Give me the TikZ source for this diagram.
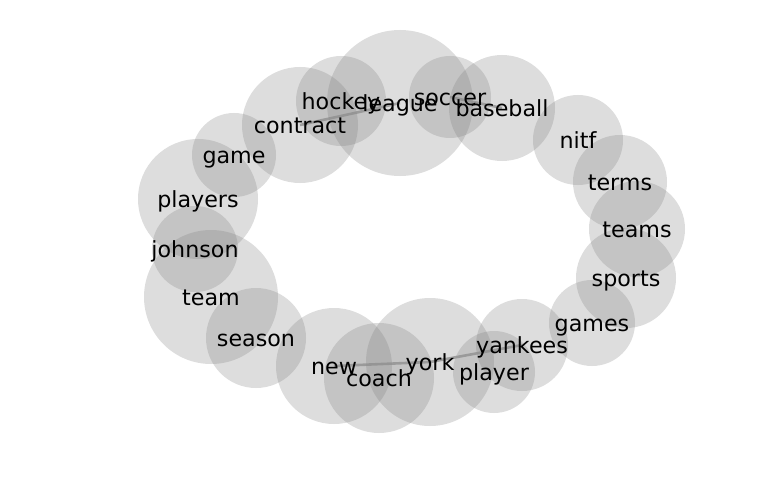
\documentclass[tikz,border=0pt]{standalone}
\usepackage{fontspec}
\setmainfont{DejaVu Sans}
\begin{document}
\begin{tikzpicture}[x=1pt,y=-1pt,
  bubble/.style={circle,fill=black!50,fill opacity=0.27,draw=none,inner sep=0pt,minimum size=#1},
  link/.style={draw=black!45,line width=2.6pt,opacity=0.75},
  word/.style={font=\fontsize{22.2}{26}\selectfont,text=black,inner sep=0pt,text height=0.76em,text depth=0pt,yshift=-4.5pt}]
\useasboundingbox (0,0) rectangle (768,500);
\foreach \n/\x/\y/\r in {
  league/400/103/73, hockey/341/101/45, contract/300/125/58,
  soccer/450/97/41, baseball/502/108/53, nitf/578/140/45,
  terms/620/182/47, teams/637/229/48, sports/626/278/50,
  games/592/323/43, yankees/522/345/46, player/494/372/41,
  york/430/362/64, coach/379/378/55, new/334/366/58,
  season/256/338/50, team/211/297/67, johnson/195/249/43,
  players/198/199/60, game/234/155/42}
  {\node[bubble=2*\r pt] (\n) at (\x,\y) {};}
\draw[link] (contract.center) -- (league.center);
\draw[link] (soccer.center) -- (baseball.center);
\draw[link] (new.center) -- (york.center);
\draw[link] (york.center) -- (yankees.center);
\foreach \n in {league,hockey,contract,soccer,baseball,nitf,terms,teams,sports,games,
  yankees,player,york,coach,new,season,team,johnson,players,game}
  {\node[word] (t-\n) at (\n.center) {\n};}
\end{tikzpicture}
\end{document}
